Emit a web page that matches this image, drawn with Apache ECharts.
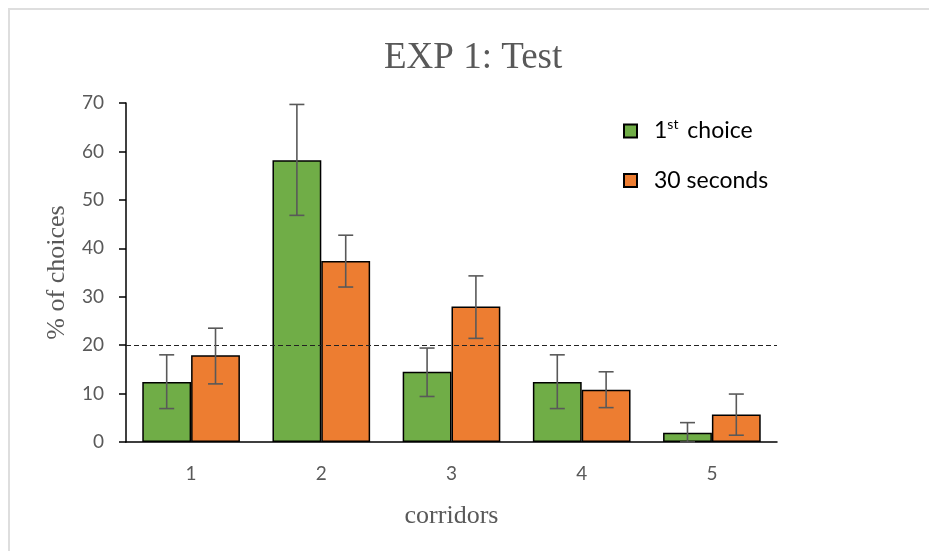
<!DOCTYPE html>
<html>
<head>
<meta charset="utf-8">
<script src="https://cdn.jsdelivr.net/npm/echarts@6/dist/echarts.min.js"></script>
<style>html,body{margin:0;padding:0;background:#fff;}#c{width:929px;height:551px;}</style>
</head>
<body>
<div id="c"></div>
<script>
const categories = ['1', '2', '3', '4', '5'];
const firstChoice = [12.4, 58.2, 14.5, 12.4, 1.9];
const firstChoiceLow = [6.9, 46.8, 9.4, 6.9, 0];
const firstChoiceHigh = [18.0, 69.7, 19.4, 18.0, 4.0];
const thirtySec = [17.9, 37.4, 28.0, 10.8, 5.7];
const thirtySecLow = [12.0, 32.0, 21.4, 7.1, 1.4];
const thirtySecHigh = [23.5, 42.7, 34.3, 14.5, 9.9];
const chanceLevel = 20;
const yTicks = { min: 0, max: 70, interval: 10 };

const GREEN = '#70AD47', ORANGE = '#ED7D31', ERR = '#595959';

function errSeries(name, low, high, side) {
  return {
    type: 'custom', name: name + ' err', silent: true, z: 5,
    data: categories.map((c, i) => [i, low[i], high[i]]),
    renderItem: function (params, api) {
      const i = api.value(0);
      const band = api.size([1, 0])[0];
      const off = side * band * 0.75 / 4;
      const p1 = api.coord([i, api.value(1)]);
      const p2 = api.coord([i, api.value(2)]);
      const x = p1[0] + off, cap = 7.5;
      const st = { stroke: ERR, lineWidth: 1.6 };
      return { type: 'group', children: [
        { type: 'line', shape: { x1: x, y1: p1[1], x2: x, y2: p2[1] }, style: st },
        { type: 'line', shape: { x1: x - cap, y1: p1[1], x2: x + cap, y2: p1[1] }, style: st },
        { type: 'line', shape: { x1: x - cap, y1: p2[1], x2: x + cap, y2: p2[1] }, style: st }
      ]};
    },
    encode: { x: 0, y: [1, 2] }
  };
}

const chart = echarts.init(document.getElementById('c'));
chart.setOption({
  animation: false,
  backgroundColor: '#fff',
  graphic: [{ type: 'rect', shape: { x: 9, y: 9, width: 1000, height: 1000 },
    style: { fill: 'none', stroke: '#dedede', lineWidth: 2 }, silent: true, z: -10 }],
  title: { text: 'EXP 1: Test', left: 384, top: 40, padding: 0,
    textStyle: { fontFamily: 'Liberation Serif', fontSize: 37, fontWeight: 'normal', color: '#595959' } },
  legend: [
    { orient: 'vertical', left: 618, top: 112, itemWidth: 13, itemHeight: 13, icon: 'rect',
      data: ['1st choice'],
      formatter: () => '{main|1}{sup|st}{main| choice}',
      textStyle: { fontFamily: 'Lato', fontSize: 23, color: '#000', padding: [0, 0, 0, 12],
        rich: {
          main: { fontFamily: 'Lato', fontSize: 23, color: '#000', lineHeight: 28 },
          sup: { fontFamily: 'Lato', fontSize: 14, color: '#000', lineHeight: 14, verticalAlign: 'middle', padding: [0, 3, 14, 0] }
        } } },
    { orient: 'vertical', left: 618, top: 164, itemWidth: 13, itemHeight: 13, icon: 'rect',
      data: ['30 seconds'],
      textStyle: { fontFamily: 'Lato', fontSize: 23, color: '#000', padding: [0, 0, 0, 12] } }
  ],
  grid: { left: 126, right: 152, top: 103, bottom: 109 },
  xAxis: {
    type: 'category', data: categories,
    name: 'corridors', nameLocation: 'middle', nameGap: 61,
    nameTextStyle: { fontFamily: 'Liberation Serif', fontSize: 26, color: '#595959' },
    axisLine: { lineStyle: { color: '#000', width: 1.5 } },
    axisTick: { show: false },
    axisLabel: { margin: 22, fontFamily: 'Lato', fontSize: 19, color: '#595959' }
  },
  yAxis: {
    type: 'value', min: yTicks.min, max: yTicks.max, interval: yTicks.interval,
    name: '% of choices', nameLocation: 'middle', nameGap: 56,
    nameTextStyle: { fontFamily: 'Liberation Serif', fontSize: 26, color: '#595959' },
    axisLine: { show: true, lineStyle: { color: '#000', width: 1.5 } },
    axisTick: { show: true, length: 7, lineStyle: { color: '#000', width: 1.5 } },
    splitLine: { show: false },
    axisLabel: { margin: 22, fontFamily: 'Lato', fontSize: 19, color: '#595959' }
  },
  series: [
    { name: '1st choice', type: 'bar', data: firstChoice, barGap: '0%', barCategoryGap: '25%',
      itemStyle: { color: GREEN, borderColor: '#000', borderWidth: 1.5 },
      markLine: { silent: true, symbol: 'none', label: { show: false },
        lineStyle: { color: '#222', type: [5, 3], width: 1.2 }, data: [{ yAxis: chanceLevel }] } },
    { name: '30 seconds', type: 'bar', data: thirtySec,
      itemStyle: { color: ORANGE, borderColor: '#000', borderWidth: 1.5 } },
    errSeries('1st choice', firstChoiceLow, firstChoiceHigh, -1),
    errSeries('30 seconds', thirtySecLow, thirtySecHigh, 1)
  ]
});
</script>
</body>
</html>
